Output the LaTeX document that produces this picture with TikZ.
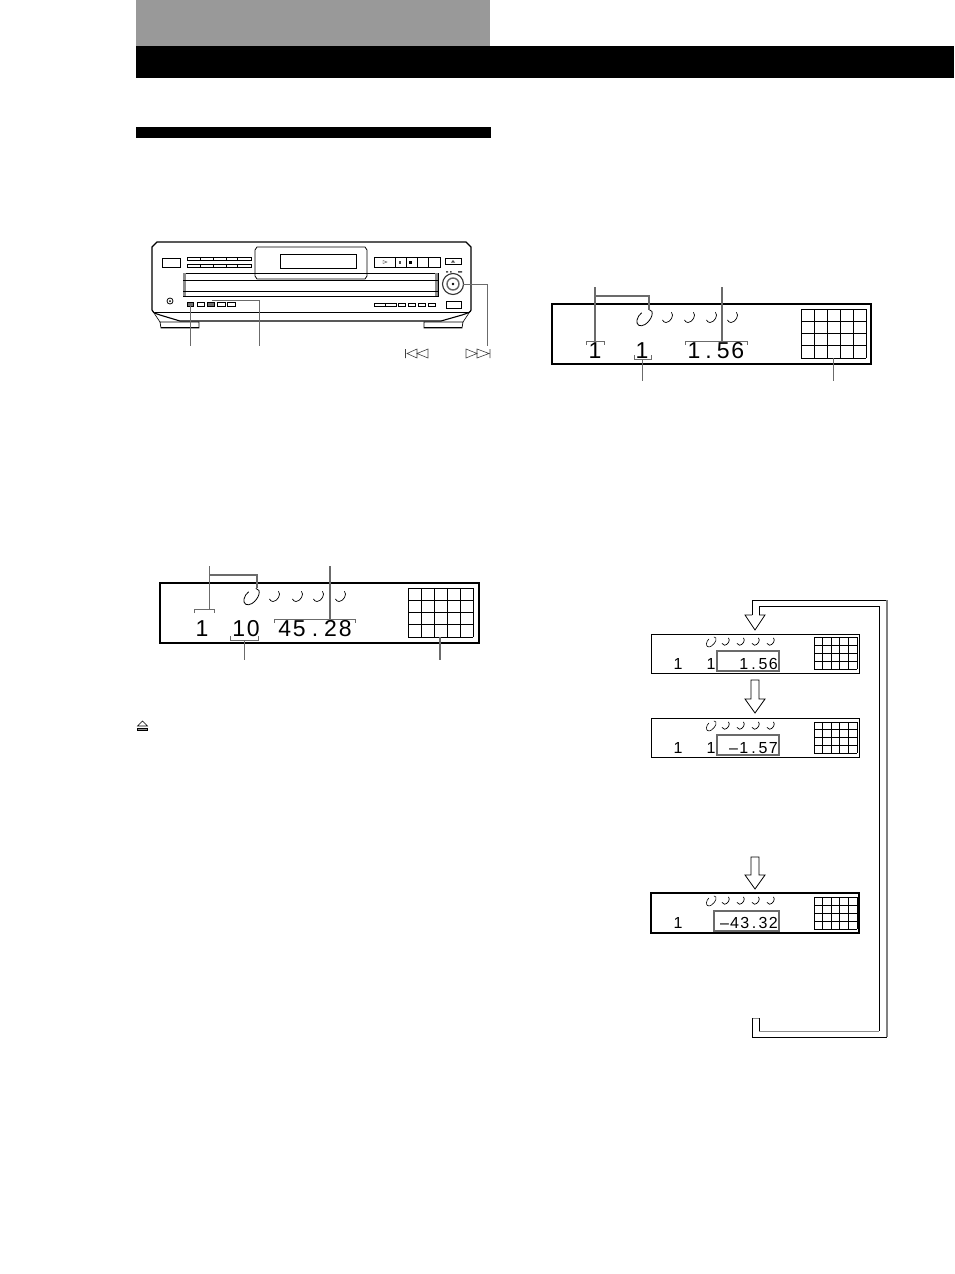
\documentclass[tikz,border=0pt]{standalone}
\usepackage{fontspec}
\setmainfont{Liberation Sans}
\newfontfamily\lcdfam[LetterSpace=8]{Liberation Sans}
\definecolor{lead}{gray}{0.42}
\tikzset{
 lcdbig/.style={inner sep=0pt,font=\lcdfam\fontsize{23}{23}\selectfont},
 lcdsm/.style={inner sep=0pt,font=\lcdfam\fontsize{16}{16}\selectfont},
 leader/.style={draw=lead,line width=1pt},
 leaderb/.style={draw=lead,line width=1.6pt},
 box/.style={draw=black,line width=1pt},
 blockarrow/.style={draw=black,line width=.8pt,fill=white,line join=miter},
 pics/discsm/.style={code={\draw[line width=.7pt,line cap=round] (3.5,-5.5) .. controls (6.5,-3) and (2.5,4.5) .. (-2,4.5) .. controls (-3.5,4.5) and (-5,3.5) .. (-5.5,2);}},
 pics/discbig/.style={code={\draw[line width=.8pt,line cap=round] (4,-8.5) .. controls (10,-8) and (7,2) .. (0,6.5) .. controls (-5,9.5) and (-9,7) .. (-8,2) .. controls (-7.5,-1) and (-5.5,-3.5) .. (-3.5,-5);}},
 pics/discbs/.style={code={\draw[line width=.6pt,line cap=round] (2.5,-5) .. controls (6.5,-5) and (4.5,1) .. (0,4) .. controls (-3,6) and (-5.5,4.5) .. (-5,1.5) .. controls (-4.8,-.5) and (-3.7,-2) .. (-2.5,-3);}},
}
\newcommand\lcdgrid[4]{%
 \foreach \i in {0,...,5}{\pgfmathsetmacro\xx{#1+\i*(#3-#1)/5}\draw[line width=.8pt] (\xx,#2)--(\xx,#4);}
 \foreach \i in {0,...,4}{\pgfmathsetmacro\yy{#2+\i*(#4-#2)/4}\draw[line width=.8pt] (#1,\yy)--(#3,\yy);}
}
\newcommand\brk[4]{\draw[leader] (#1,#3+#4)--(#1,#3)--(#2,#3)--(#2,#3+#4);}
\newcommand\smalldiscs[1]{%
 \pic at (711.5,#1) {discbs};
 \foreach \xx in {726,741,756,771}{\pic[scale=.72] at (\xx,#1) {discsm};}
}
\begin{document}
\begin{tikzpicture}[x=1pt,y=-1pt]
\useasboundingbox (0,0) rectangle (954,1274);
% header
\fill[black!40] (136,0) rectangle (490,46);
\fill[black] (136,46) rectangle (954,78);
\fill[black] (136,127) rectangle (491,138);
% player
\draw[line width=1.1pt] (152,310) -- (152,247) -- (157,242) -- (466,242) -- (471,247) -- (471,310) .. controls (471,312) and (468,313) .. (462,315) -- (441,321) -- (180,321) -- (160,315) .. controls (154,313) and (152,312) .. (152,310);
\draw[line width=.7pt] (155,312) -- (468,312);
\fill[white,draw=black,line width=.8pt] (255,250) -- (257,247) -- (365,247) -- (367,250) -- (367,276) -- (365,279) -- (257,279) -- (255,276) -- cycle;
\draw[line width=.8pt] (280,254) rectangle (356,268);
\draw[line width=.8pt] (162,258) rectangle (180,267);
\draw[line width=.9pt] (183,273) rectangle (438,296);
\fill[black!45] (183,273) rectangle (186,296);
\fill[black!45] (435,273) rectangle (438,296);
\draw[line width=1pt] (183,280) -- (438,280) (183,291) -- (438,291);
% top-left key rows
\draw[line width=.7pt] (187,257) rectangle (251,260.5);
\draw[line width=.7pt] (187,264) rectangle (251,267.5);
\foreach \xx in {200,213,226,237}{\draw[line width=.6pt] (\xx,257)--(\xx,260.5);}
\foreach \xx in {200,213,226,237}{\draw[line width=.6pt] (\xx,264)--(\xx,267.5);}
% transport
\draw[line width=.8pt] (374,257) rectangle (440,267.5);
\draw[line width=.7pt] (395,257)--(395,267.5) (406,257)--(406,267.5) (417,257)--(417,267.5) (428,257)--(428,267.5);
\draw[line width=.4pt,draw=black!70] (383,260.5) -- (387,262) -- (383,263.5) -- cycle;
\fill[black!70] (398.5,260.5) rectangle (401,263.5);
\fill (409,260.5) rectangle (412,263.5);
\draw[line width=.8pt] (445,258) rectangle (461,264.5);
\fill[black!70] (451,262.5) -- (453,260) -- (455,262.5) -- cycle;
\fill[black!70] (446,271) rectangle (448,272.5) (450,271) rectangle (451.5,272.5) (458,271) rectangle (462,272.5);
% dial
\draw[line width=1.1pt,draw=black!80] (453,284) circle (10.5);
\draw[line width=1.4pt,draw=black!60] (453,284) circle (6);
\fill (453,284) circle (1.3);
\draw[line width=.8pt] (170,301) circle (3);
\fill (170,301) circle (1);
% bottom keys
\fill[black!55] (187,302) rectangle (193,306);
\draw[line width=.6pt] (187,302) rectangle (193,306);
\draw[line width=.6pt] (197,302) rectangle (204,306);
\fill[black!55] (207,302) rectangle (214,306);
\draw[line width=.6pt] (207,302) rectangle (214,306);
\draw[line width=.6pt] (217,302) rectangle (225,306);
\draw[line width=.6pt] (227,302) rectangle (235,306);
\draw[line width=.6pt] (374,303) rectangle (396,306) (385,303)--(385,306);
\draw[line width=.6pt] (398,303) rectangle (405,306);
\draw[line width=.6pt] (408,303) rectangle (415,306);
\draw[line width=.6pt] (418,303) rectangle (425,306);
\draw[line width=.6pt] (428,303) rectangle (435,306);
\draw[line width=.7pt] (446,301) rectangle (461,308);
% feet
\draw[line width=.7pt] (160,322) -- (199,322) -- (199,328) -- (161,328) -- cycle;
\fill (161,326.5) rectangle (199,328);
\draw[line width=.7pt] (424,322) -- (463,322) -- (462,328) -- (424,328) -- cycle;
\fill (424,326.5) rectangle (462,328);
\draw[line width=.6pt] (152,310) -- (160,322) (471,310) -- (463,322);
% player leaders
\coordinate (keyA) at (190,303);
\coordinate (keyAend) at (190,346);
\coordinate (keyB) at (212,300);
\coordinate (keyBend) at (259,346);
\coordinate (dialR) at (463,284);
\coordinate (dialEnd) at (487,346);
\draw[leader] (keyA) -- (keyAend);
\draw[leader] (keyB) -| (keyBend);
\draw[leader] (dialR) -| (dialEnd);
% skip glyphs
\draw[line width=.6pt,draw=black!75] (405.5,349) -- (405.5,358) (417,349) -- (407,353.5) -- (417,358) -- cycle (428,349) -- (417,353.5) -- (428,358) -- cycle;
\draw[line width=.6pt,draw=black!75] (490,349) -- (490,358) (466,349) -- (477,353.5) -- (466,358) -- cycle (477,349) -- (489,353.5) -- (477,358) -- cycle;

% display 1
\draw[box,line width=1.1pt] (160,583) rectangle (479,643);
\lcdgrid{408}{588}{473}{637}
\foreach \xx in {275,298,319,341}{\pic at (\xx,597) {discsm};}
\pic at (252,597) {discbig};
\node[lcdbig] (dA) at (202,629) {1};
\node[lcdbig] (dB) at (246,629) {10};
\node[lcdbig] (dC) at (315,629) {45\kern6pt.\kern6pt28};
\coordinate (a1) at (209,566); \coordinate (a2) at (209,609);
\draw[leader] (a1) -- (a2);
\brk{194}{214}{609}{4}
\draw[leaderb] (209,575) -- (257,575) -- (257,588);
\coordinate (a3) at (330,566); \coordinate (a4) at (330,619);
\draw[leaderb] (a3) -- (a4);
\brk{274}{355}{619}{4}
\brk{230}{258}{640}{-4}
\draw[leader] (244,640) -- (244,660);
\draw[leaderb] (440,637) -- (440,660);

% display 2
\draw[box,line width=1.1pt] (552,304) rectangle (871,364);
\lcdgrid{801}{309}{866}{358}
\foreach \xx in {668,690,712,733}{\pic at (\xx,318) {discsm};}
\pic at (645,318) {discbig};
\node[lcdbig] (eA) at (595,351) {1};
\node[lcdbig] (eB) at (642,351) {1};
\node[lcdbig] (eC) at (716,351) {1\kern5pt.\kern5pt56};
\draw[leaderb] (595,287) -- (595,341);
\brk{586}{604}{341}{4}
\draw[leaderb] (595,296) -- (649,296) -- (649,310);
\draw[leaderb] (722,287) -- (722,341);
\brk{685}{747}{341}{4}
\brk{634}{651}{359}{-4}
\draw[leader] (642,359) -- (642,381);
\draw[leader] (833,358) -- (833,381);

% small displays
\draw[box] (651,634) rectangle (859,673);
\lcdgrid{814}{637}{857}{669}
\smalldiscs{642}
\node[lcdsm] (f1) at (678,664) {1};
\node[lcdsm] (f2) at (711,664) {1};
\draw[lead,line width=1.2pt] (717,651) rectangle (779,671);
\node[lcdsm,anchor=east] (f3) at (778,664) {1\kern3pt.\kern3pt56};

\draw[box] (651,718) rectangle (859,757);
\lcdgrid{814}{722}{857}{753}
\smalldiscs{726}
\node[lcdsm] (g1) at (678,748) {1};
\node[lcdsm] (g2) at (711,748) {1};
\draw[lead,line width=1.2pt] (717,735) rectangle (779,755);
\node[lcdsm,anchor=east] (g3) at (778,748) {–1\kern3pt.\kern3pt57};

\draw[box,line width=1.5pt] (651,893) rectangle (859,933);
\lcdgrid{814}{897}{857}{929}
\smalldiscs{901}
\node[lcdsm] (h1) at (678,923) {1};
\draw[lead,line width=1.2pt] (714,911) rectangle (779,931);
\node[lcdsm,anchor=east] (h3) at (778,923) {–43\kern2.5pt.\kern2.5pt32};

% block arrows
\draw[blockarrow] (751,680) -- (759,680) -- (759,699) -- (765,699) -- (755,713) -- (745,699) -- (751,699) -- cycle;
\draw[blockarrow] (751,857) -- (759,857) -- (759,875) -- (765,875) -- (755,889) -- (745,875) -- (751,875) -- cycle;
% return loop
\draw[line width=.9pt] (752,615) -- (752,600) -- (887,600);
\draw[line width=.9pt] (759,615) -- (759,606) -- (879,606) -- (879,1031);
\draw[black!45,line width=.9pt] (879,1031) -- (759,1031);
\draw[line width=.9pt] (759,1031) -- (759,1018);
\draw[black!45,line width=1pt] (752,1018) -- (759,1018);
\draw[line width=.9pt] (752,1018) -- (752,1037) -- (887,1037);
\draw[black!50,line width=1.4pt] (887,600) -- (887,1037);
\draw[blockarrow] (752,615) -- (745,615) -- (755,630) -- (765,615) -- (759,615);
% eject
\draw[line width=.6pt,fill=white] (137.5,726) -- (142.5,721) -- (147.5,726) -- cycle;
\draw[line width=.6pt,fill=black!45] (137.5,728) rectangle (147.5,730);
\end{tikzpicture}
\end{document}
